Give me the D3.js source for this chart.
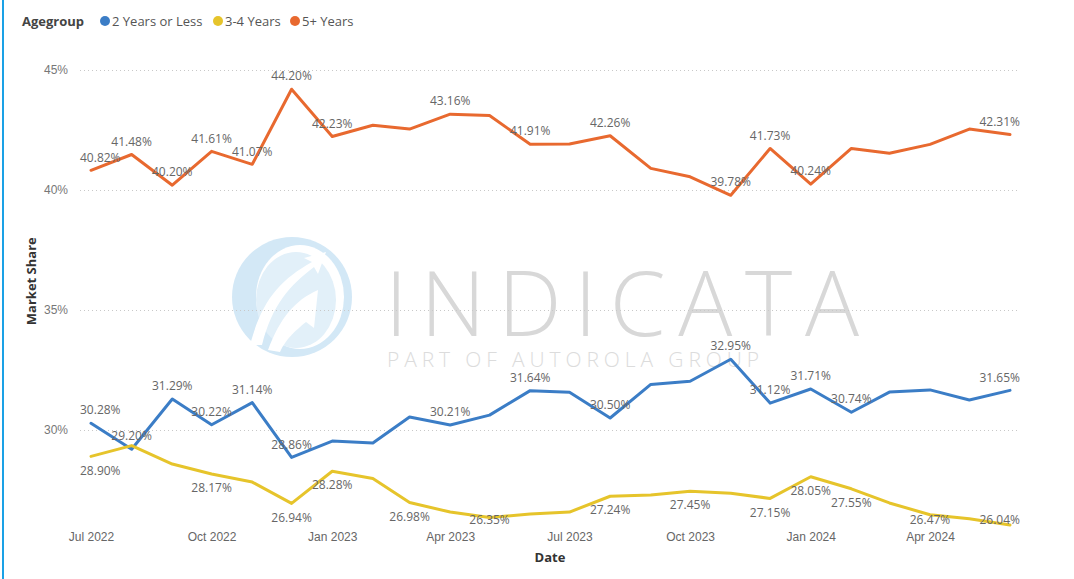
<!DOCTYPE html>
<html>
<head>
<meta charset="utf-8">
<script src="https://cdn.jsdelivr.net/npm/d3@7"></script>
<style>
  html, body { margin: 0; padding: 0; background: #fff; }
  svg { display: block; font-family: "Open Sans", "Segoe UI", sans-serif; }
</style>
</head>
<body>
<svg id="chart" width="1074" height="579"></svg>
<script>
// ---------- DATA ----------
const months = ["2022-07","2022-08","2022-09","2022-10","2022-11","2022-12",
                "2023-01","2023-02","2023-03","2023-04","2023-05","2023-06",
                "2023-07","2023-08","2023-09","2023-10","2023-11","2023-12",
                "2024-01","2024-02","2024-03","2024-04","2024-05","2024-06"];
const seriesNames = ["2 Years or Less", "3-4 Years", "5+ Years"];
const twoYearsOrLess = [30.28,29.20,31.29,30.22,31.14,28.86,29.54,29.46,30.54,30.21,30.62,31.64,
                        31.57,30.50,31.90,32.03,32.95,31.12,31.71,30.74,31.58,31.67,31.25,31.65];
const threeToFour    = [28.90,29.35,28.58,28.17,27.83,26.94,28.28,27.98,26.98,26.58,26.35,26.50,
                        26.58,27.24,27.29,27.45,27.36,27.15,28.05,27.55,26.96,26.47,26.30,26.04];
const fivePlus       = [40.82,41.48,40.20,41.61,41.07,44.20,42.23,42.70,42.54,43.16,43.10,41.91,
                        41.92,42.26,40.90,40.55,39.78,41.73,40.24,41.73,41.53,41.90,42.54,42.31];
// indices of points that carry a data label
const labelsTwo   = [0,1,2,3,4,5,9,11,13,16,17,18,19,23];
const labelsThree = [0,3,5,6,8,10,13,15,17,18,19,21,23];
const labelsFive  = [0,1,2,3,4,5,6,9,11,13,16,17,18,23];
const yTicks = [30, 35, 40, 45];
const xTickMonths = ["2022-07","2022-10","2023-01","2023-04","2023-07","2023-10","2024-01","2024-04"];

// ---------- SETUP ----------
const colors = ["#3b7dc6", "#e6c42b", "#e8692f"];
const svg = d3.select("#chart");
const W = 1074, H = 579;
const plot = { left: 80, right: 1020, top: 46, bottom: 528.4 };
const parse = d3.timeParse("%Y-%m");
const dates = months.map(parse);

const x = d3.scaleTime()
  .domain(d3.extent(dates))
  .range([91, 1010]);
const y = d3.scaleLinear()
  .domain([25.9, 46])
  .range([plot.bottom, plot.top]);

// left blue border
svg.append("rect").attr("x", 2).attr("y", 0).attr("width", 2).attr("height", H).attr("fill", "#1aa1e6");

// ---------- WATERMARK ----------
const wm = svg.append("g").attr("class", "watermark");
wm.append("ellipse").attr("cx", 292).attr("cy", 297).attr("rx", 60).attr("ry", 60).attr("fill", "#d3e8f6");
wm.append("ellipse").attr("cx", 300).attr("cy", 297).attr("rx", 44).attr("ry", 52).attr("fill", "#ffffff");
wm.append("ellipse").attr("cx", 296).attr("cy", 300).attr("rx", 40).attr("ry", 48).attr("fill", "#e2f0f9");
wm.append("path")
  .attr("d", "M250,345 C262,300 280,280 312,262 L304,258 L326,252 L318,274 L314,267 C290,285 272,305 262,345 Z")
  .attr("fill", "#ffffff");
wm.append("path")
  .attr("d", "M268,350 C280,318 295,300 318,290 L314,328 L306,322 C296,330 285,340 280,352 Z")
  .attr("fill", "#ffffff");
wm.append("text")
  .attr("x", 385).attr("y", 336)
  .attr("font-size", 90).attr("font-weight", 300)
  .attr("fill", "#d8d8d8")
  .attr("textLength", 474).attr("lengthAdjust", "spacing")
  .text("INDICATA");
wm.append("text")
  .attr("x", 387).attr("y", 367)
  .attr("font-size", 21).attr("font-weight", 300)
  .attr("fill", "#dcdcdc")
  .attr("textLength", 372).attr("lengthAdjust", "spacing")
  .text("PART OF AUTOROLA GROUP");

// ---------- GRID & AXES ----------
const yAxis = d3.axisLeft(y).tickValues(yTicks).tickFormat(d => d + "%").tickSize(-(plot.right - plot.left)).tickPadding(12);
const gy = svg.append("g").attr("transform", `translate(${plot.left},0)`).call(yAxis);
gy.select(".domain").remove();
gy.selectAll(".tick line").attr("stroke", "#c8c8c8").attr("stroke-dasharray", "1,3");
gy.selectAll(".tick text").attr("fill", "#777").attr("font-size", 12);

const xAxis = d3.axisBottom(x).tickValues(xTickMonths.map(parse)).tickFormat(d3.timeFormat("%b %Y")).tickSize(0).tickPadding(0);
const gx = svg.append("g").attr("transform", `translate(0,${plot.bottom + 4})`).call(xAxis);
gx.select(".domain").remove();
gx.selectAll(".tick text").attr("fill", "#666").attr("font-size", 12).attr("dy", "0.71em");

svg.append("text").attr("x", (plot.left + plot.right) / 2).attr("y", 562)
  .attr("text-anchor", "middle").attr("font-size", 13).attr("font-weight", 700).attr("fill", "#333")
  .text("Date");
svg.append("text").attr("transform", `translate(36,${(plot.top + plot.bottom) / 2 - 6}) rotate(-90)`)
  .attr("text-anchor", "middle").attr("font-size", 13).attr("font-weight", 700).attr("fill", "#333")
  .text("Market Share");

// ---------- LEGEND ----------
const lg = svg.append("g").attr("class", "legend");
lg.append("text").attr("x", 22).attr("y", 26).attr("font-size", 13).attr("font-weight", 700).attr("fill", "#444").text("Agegroup");
const legendX = [105, 218, 295];
seriesNames.forEach((n, i) => {
  lg.append("circle").attr("cx", legendX[i]).attr("cy", 21).attr("r", 5).attr("fill", colors[i]);
  lg.append("text").attr("x", legendX[i] + 7).attr("y", 26).attr("font-size", 13).attr("fill", "#555").text(n);
});

// ---------- LINES ----------
const seriesVals = [twoYearsOrLess, threeToFour, fivePlus];
const seriesLabels = [labelsTwo, labelsThree, labelsFive];
const line = d3.line().x((d, i) => x(dates[i])).y(d => y(d));
seriesVals.forEach((vals, s) => {
  svg.append("path").datum(vals)
    .attr("fill", "none").attr("stroke", colors[s]).attr("stroke-width", 3)
    .attr("stroke-linejoin", "round").attr("stroke-linecap", "round")
    .attr("d", line);
});

// ---------- DATA LABELS ----------
const lblG = svg.append("g").attr("font-size", 12).attr("fill", "#666");
seriesVals.forEach((vals, s) => {
  seriesLabels[s].forEach(i => {
    const t = vals[i].toFixed(2) + "%";
    const px = x(dates[i]);
    let cy = s === 1 ? y(vals[i]) + 14 : y(vals[i]) - 13;
    cy = Math.min(cy, 520);
    const txt = lblG.append("text").attr("y", cy).attr("dy", "0.35em").attr("text-anchor", "middle").text(t);
    const w = txt.node().getComputedTextLength();
    let cx = px;
    cx = Math.max(cx, plot.left + w / 2);
    cx = Math.min(cx, plot.right - w / 2);
    txt.attr("x", cx);
  });
});
</script>
</body>
</html>
